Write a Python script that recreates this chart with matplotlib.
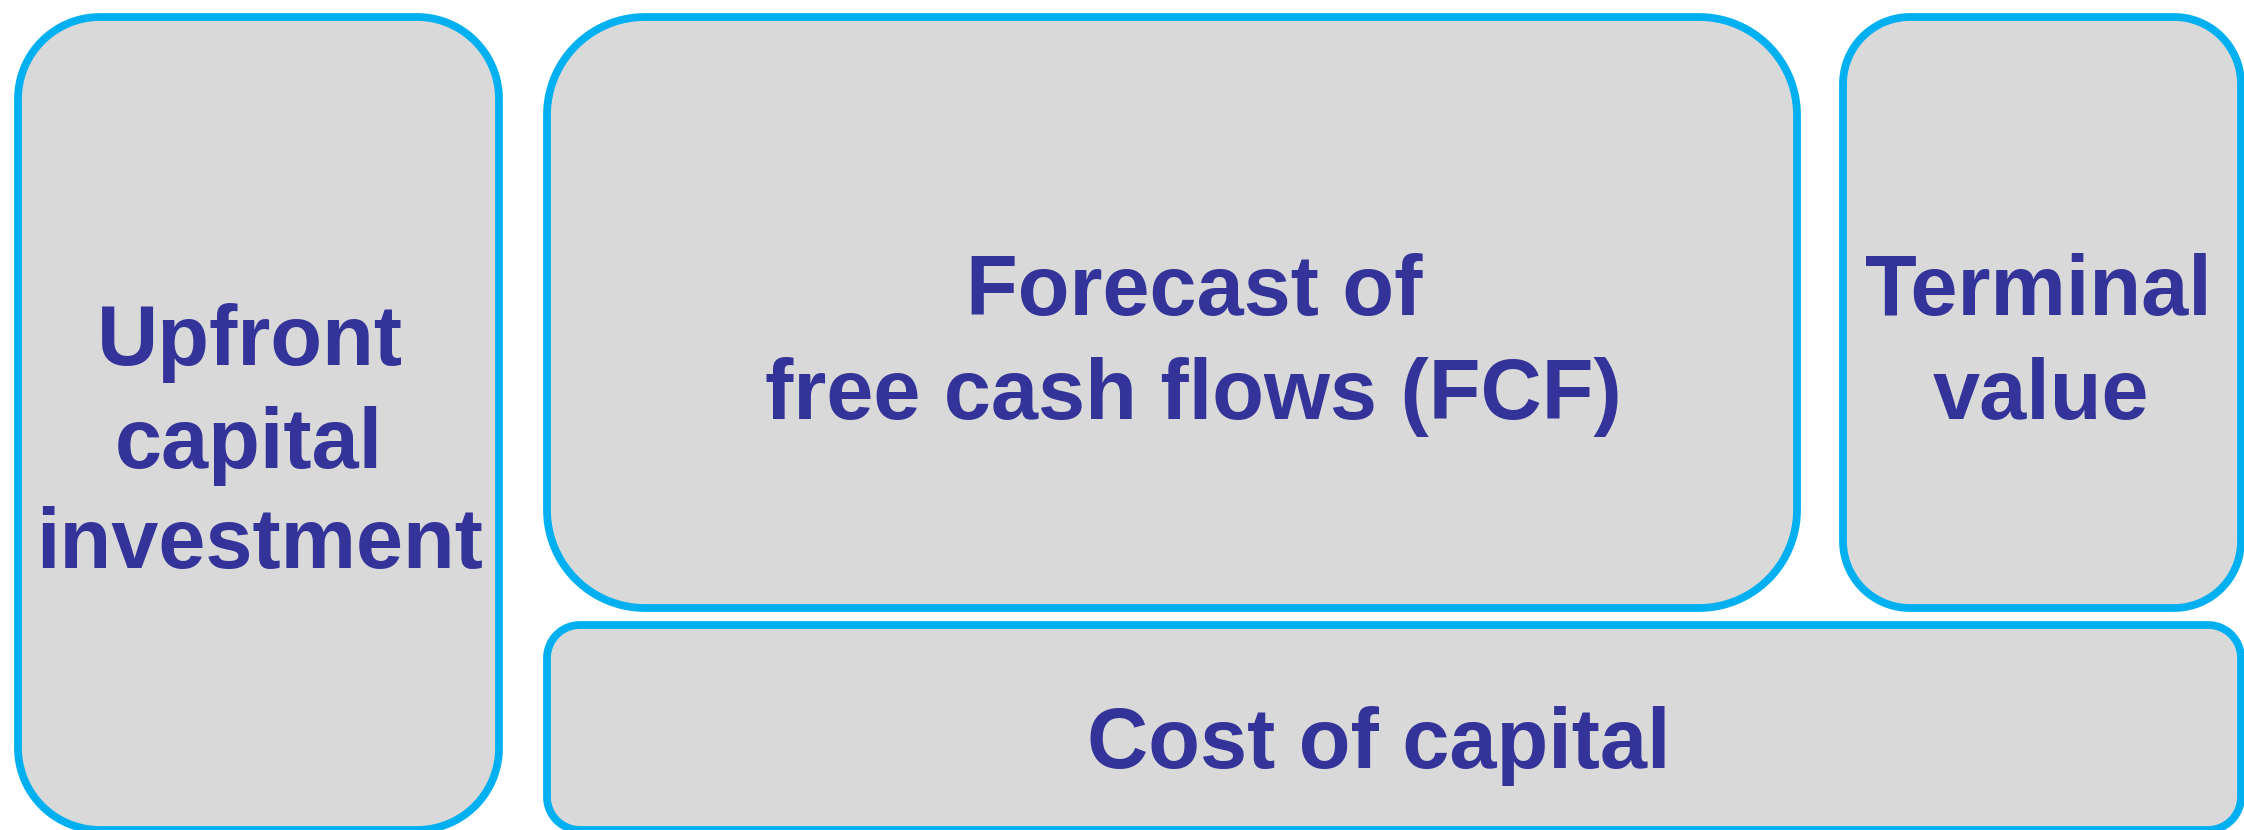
import numpy as np
import matplotlib.pyplot as plt
from matplotlib.patches import Polygon

# box labels (one entry per line of text)
labels = [
    ["Upfront", "capital", "investment"],
    ["Forecast of", "free cash flows (FCF)"],
    ["Terminal", "value"],
    ["Cost of capital"],
]

# box outlines in pixels: x0, y0, x1, y1, corner radius
boxes = [
    (18, 17, 499, 830, 82),
    (547, 17, 1797, 608, 98),
    (1843, 17, 2241, 608, 67),
    (547, 625, 2241, 830, 33),
]

# text line centres (x) and baselines (y), in pixels
line_x = [[250, 249, 260], [1194, 1193], [2038, 2041], [1379]]
line_y = [[365, 468, 568], [315, 419], [315, 419], [768]]

fill = "#D9D9D9"
edge = "#00B0F0"
ink = "#333399"


def rounded_rect(x0, y0, x1, y1, r):
    # rectangle with true circular-arc corners
    corners = [(x1 - r, y0 + r, -90), (x1 - r, y1 - r, 0),
               (x0 + r, y1 - r, 90), (x0 + r, y0 + r, 180)]
    pts = []
    for cx, cy, a0 in corners:
        t = np.radians(np.linspace(a0, a0 + 90, 30))
        pts.append(np.column_stack([cx + r * np.cos(t), cy + r * np.sin(t)]))
    return np.vstack(pts)


fig = plt.figure(figsize=(22.44, 8.3), dpi=100)
ax = fig.add_axes([0, 0, 1, 1])
ax.set_xlim(0, 2244)
ax.set_ylim(830, 0)
ax.axis("off")

for (x0, y0, x1, y1, r) in boxes:
    ax.add_patch(Polygon(rounded_rect(x0, y0, x1, y1, r), closed=True,
                         facecolor=fill, edgecolor=edge, linewidth=5.6))

for lines, xs, ys in zip(labels, line_x, line_y):
    for txt, x, y in zip(lines, xs, ys):
        ax.text(x, y, txt, ha="center", va="baseline", color=ink,
                fontsize=61, fontweight="bold", family="Liberation Sans")

fig.savefig("out.png", dpi=100)
